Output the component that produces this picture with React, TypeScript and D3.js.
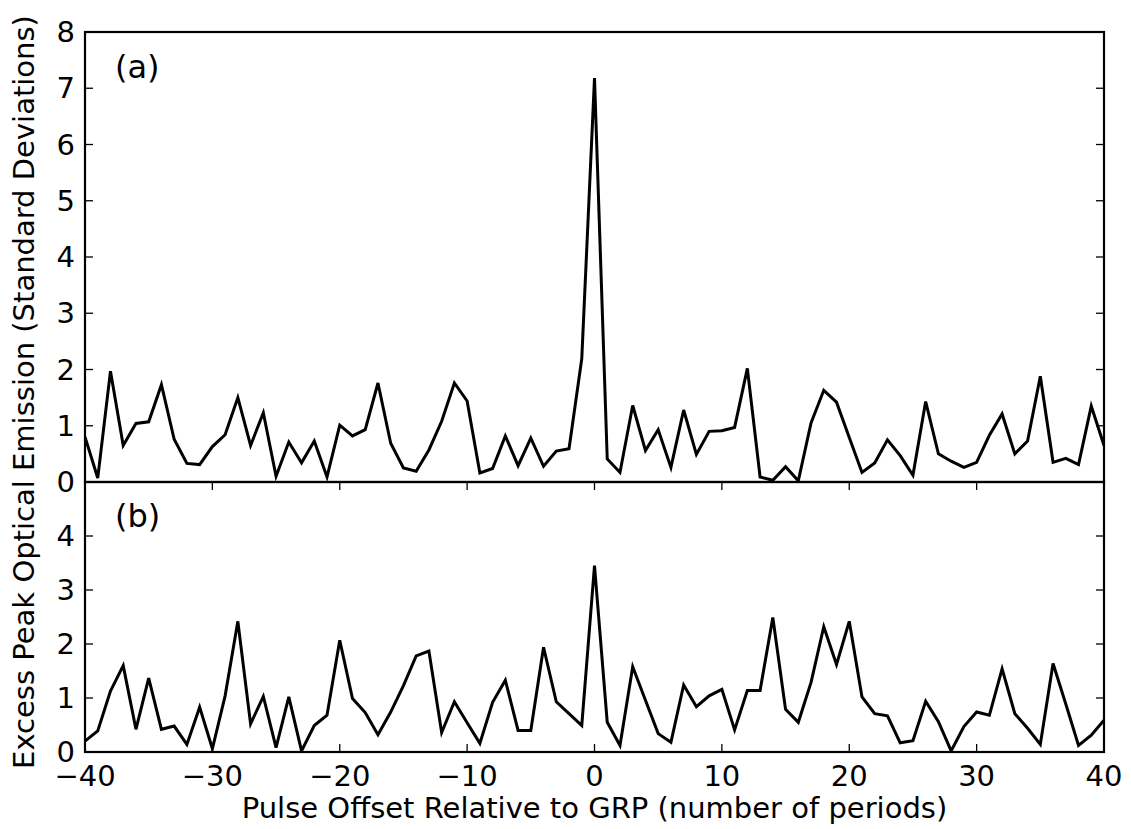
import React from "react";
import * as d3 from "d3";

const offsets: number[] = d3.range(-40, 41);

const seriesA: number[] = [
  0.80, 0.07, 1.97, 0.65, 1.04, 1.07, 1.73, 0.76, 0.33, 0.31,
  0.63, 0.84, 1.50, 0.65, 1.23, 0.10, 0.71, 0.34, 0.73, 0.09,
  1.01, 0.82, 0.93, 1.76, 0.69, 0.25, 0.19, 0.57, 1.08, 1.76,
  1.44, 0.16, 0.24, 0.82, 0.29, 0.78, 0.28, 0.55, 0.59, 2.19,
  7.18,
  0.41, 0.17, 1.36, 0.56, 0.93, 0.26, 1.28, 0.49, 0.90, 0.91,
  0.97, 2.02, 0.09, 0.03, 0.27, 0.02, 1.05, 1.63, 1.42, 0.79,
  0.17, 0.34, 0.75, 0.47, 0.12, 1.43, 0.50, 0.37, 0.26, 0.35,
  0.83, 1.21, 0.50, 0.73, 1.88, 0.35, 0.42, 0.31, 1.35, 0.65,
];

const seriesB: number[] = [
  0.20, 0.39, 1.13, 1.60, 0.42, 1.37, 0.42, 0.48, 0.14, 0.83,
  0.06, 1.04, 2.42, 0.52, 1.03, 0.08, 1.02, 0.02, 0.49, 0.68,
  2.07, 0.99, 0.73, 0.32, 0.74, 1.23, 1.78, 1.87, 0.36, 0.93,
  0.54, 0.16, 0.92, 1.33, 0.40, 0.40, 1.94, 0.93, 0.71, 0.49,
  3.45,
  0.55, 0.12, 1.58, 0.96, 0.34, 0.18, 1.24, 0.84, 1.04, 1.16,
  0.41, 1.14, 1.14, 2.49, 0.79, 0.55, 1.29, 2.32, 1.62, 2.42,
  1.02, 0.71, 0.67, 0.17, 0.21, 0.94, 0.56, 0.02, 0.47, 0.74,
  0.68, 1.54, 0.71, 0.44, 0.14, 1.64, 0.89, 0.12, 0.31, 0.59,
];

const xTicks: number[] = [-40, -30, -20, -10, 0, 10, 20, 30, 40];
const yTicksA: number[] = [0, 1, 2, 3, 4, 5, 6, 7, 8];
const yTicksB: number[] = [0, 1, 2, 3, 4];

const xLabel = "Pulse Offset Relative to GRP (number of periods)";
const yLabel = "Excess Peak Optical Emission (Standard Deviations)";

const FONT = "'DejaVu Sans', sans-serif";
const FS = 29;
const TICK = 8;

export default function App() {
  const left = 85;
  const right = 1104;
  const topA = 32;
  const mid = 482;
  const bottomB = 752;

  const x = d3.scaleLinear().domain([-40, 40]).range([left, right]);
  const yA = d3.scaleLinear().domain([0, 8]).range([mid, topA]);
  const yB = d3.scaleLinear().domain([0, 5]).range([bottomB, mid]);

  const lineA = d3
    .line<number>()
    .x((_, i) => x(offsets[i]))
    .y((d) => yA(d));
  const lineB = d3
    .line<number>()
    .x((_, i) => x(offsets[i]))
    .y((d) => yB(d));

  return (
    <svg
      width={1131}
      height={829}
      style={{ position: "absolute", left: 0, top: 0, background: "#fff" }}
      fontFamily={FONT}
    >
      <defs>
        <clipPath id="clipA">
          <rect x={left} y={topA} width={right - left} height={mid - topA} />
        </clipPath>
        <clipPath id="clipB">
          <rect x={left} y={mid} width={right - left} height={bottomB - mid} />
        </clipPath>
      </defs>

      {/* data lines */}
      <path
        d={lineA(seriesA) || ""}
        fill="none"
        stroke="#000"
        strokeWidth={3}
        strokeLinejoin="miter"
        clipPath="url(#clipA)"
      />
      <path
        d={lineB(seriesB) || ""}
        fill="none"
        stroke="#000"
        strokeWidth={3}
        strokeLinejoin="miter"
        clipPath="url(#clipB)"
      />

      {/* ticks panel A (left and right) */}
      {yTicksA.map((t) => (
        <g key={"ya" + t}>
          <line x1={left} x2={left + TICK} y1={yA(t)} y2={yA(t)} stroke="#000" strokeWidth={1.3} />
          <line x1={right} x2={right - TICK} y1={yA(t)} y2={yA(t)} stroke="#000" strokeWidth={1.3} />
          <text
            x={left - 10}
            y={yA(t)}
            textAnchor="end"
            dominantBaseline="central"
            fontSize={FS}
          >
            {t}
          </text>
        </g>
      ))}

      {/* ticks panel B */}
      {yTicksB.map((t) => (
        <g key={"yb" + t}>
          <line x1={left} x2={left + TICK} y1={yB(t)} y2={yB(t)} stroke="#000" strokeWidth={1.3} />
          <line x1={right} x2={right - TICK} y1={yB(t)} y2={yB(t)} stroke="#000" strokeWidth={1.3} />
          <text
            x={left - 10}
            y={yB(t)}
            textAnchor="end"
            dominantBaseline="central"
            fontSize={FS}
          >
            {t}
          </text>
        </g>
      ))}

      {xTicks.map((t) => (
        <g key={"x" + t}>
          <line x1={x(t)} x2={x(t)} y1={bottomB} y2={bottomB - TICK} stroke="#000" strokeWidth={1.3} />
          <line x1={x(t)} x2={x(t)} y1={mid} y2={mid + TICK} stroke="#000" strokeWidth={1.3} />
          <text x={x(t)} y={786} textAnchor="middle" fontSize={FS}>
            {t < 0 ? "\u2212" + Math.abs(t) : String(t)}
          </text>
        </g>
      ))}

      {/* spines */}
      <rect x={left} y={topA} width={right - left} height={mid - topA} fill="none" stroke="#000" strokeWidth={2.2} />
      <rect x={left} y={mid} width={right - left} height={bottomB - mid} fill="none" stroke="#000" strokeWidth={2.2} />

      {/* panel labels */}
      <text x={115} y={78} fontSize={32}>(a)</text>
      <text x={115} y={527} fontSize={32}>(b)</text>

      {/* axis labels */}
      <text x={(left + right) / 2} y={818} textAnchor="middle" fontSize={FS}>
        {xLabel}
      </text>
      <text
        transform={`translate(34, ${(topA + bottomB) / 2}) rotate(-90)`}
        textAnchor="middle"
        fontSize={FS}
      >
        {yLabel}
      </text>
    </svg>
  );
}
